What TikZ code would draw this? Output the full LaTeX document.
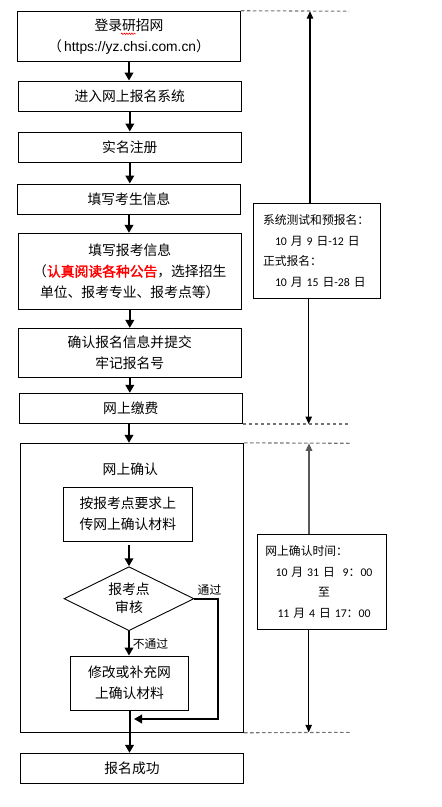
\documentclass[tikz,border=0pt]{standalone}
\usepackage{fontspec}
\setmainfont{Noto Sans CJK SC}[AutoFakeBold=2]
\newfontfamily\lat{Liberation Sans}
\newfontfamily\narrowlat{Carlito}
\newcommand{\nm}[1]{{\narrowlat #1}}
\usetikzlibrary{arrows.meta,shapes.geometric,decorations.pathmorphing}
\begin{document}
\begin{tikzpicture}[x=1pt,y=-1pt,
  box/.style={draw,line width=0.9pt,inner sep=0pt,align=center,font=\fontsize{13.8pt}{21pt}\selectfont},
  sidebox/.style={draw,line width=0.9pt,inner ysep=0pt,align=left,font=\fontsize{11.8pt}{20.5pt}\selectfont},
  thickarrow/.style={line width=2pt,-{Triangle[length=8pt,width=8.5pt]}},
  sidearrow/.style={line width=1.1pt,-{Triangle[length=7.5pt,width=6.5pt]}},
  sepline/.style={draw=black!55,line width=1.1pt,dash pattern=on 3.5pt off 2.5pt},
  lbl/.style={font=\fontsize{11.8pt}{14pt}\selectfont,inner sep=0pt}]
\useasboundingbox (0,0) rectangle (442,807);

% main column
\node[box,minimum width=223pt,minimum height=50pt] (b1) at (129,36.2)
  {登录研招网\\（\,{\lat https://yz.chsi.com.cn}）};
\node[box,minimum width=223pt,minimum height=30pt] (b2) at (129.8,96) {进入网上报名系统};
\node[box,minimum width=223pt,minimum height=30pt] (b3) at (129.8,147) {实名注册};
\node[box,minimum width=223pt,minimum height=30pt] (b4) at (129,199) {填写考生信息};
\node[box,minimum width=223pt,minimum height=76pt] (b5) at (129.8,271.3)
  {填写报考信息\\（{\color{red}\bfseries 认真阅读各种公告}，选择招生\\单位、报考专业、报考点等）};
\node[box,minimum width=223pt,minimum height=48.7pt] (b6) at (129.8,352.7)
  {确认报名信息并提交\\牢记报名号};
\node[box,minimum width=223pt,minimum height=30pt] (b7) at (130.8,408.3) {网上缴费};

% outer confirmation box
\node[box,minimum width=223.3pt,minimum height=289pt] (ob) at (132,587.8) {};
\node[box,draw=none] (obt) at (130.3,469) {网上确认};
\node[box,minimum width=129pt,minimum height=53.7pt] (i1) at (127.8,514.2)
  {按报考点要求上\\传网上确认材料};
\node[box,diamond,aspect=2,minimum width=130pt,minimum height=64pt,
  font=\fontsize{13.8pt}{18pt}\selectfont] (dm) at (129,598.7) {报考点\\审核};
\node[box,minimum width=117.3pt,minimum height=54.3pt] (i2) at (129.5,683.2)
  {修改或补充网\\上确认材料};
\node[box,minimum width=223.3pt,minimum height=30pt] (fin) at (132,768.3) {报名成功};

\node[lbl] (lpass) at (209.5,590) {通过};
\node[lbl] (lfail) at (150.5,644) {不通过};

% spell-check wave
\draw[red,line width=0.6pt,decorate,decoration={snake,amplitude=0.7pt,segment length=2.5pt}]
  (121,33.8) -- (136,33.8);

% main arrows
\draw[thickarrow] (b1.south) -- (b1.south |- b2.north);
\draw[thickarrow] (b2.south) -- (b2.south |- b3.north);
\draw[thickarrow] (b3.south) -- (b3.south |- b4.north);
\draw[thickarrow] (b4.south) -- (b4.south |- b5.north);
\draw[thickarrow] (b5.south) -- (b5.south |- b6.north);
\draw[thickarrow] (b6.south) -- (b6.south |- b7.north);
\coordinate (c7) at (129,423.3);
\draw[thickarrow] (c7) -- (c7 |- ob.north);
\coordinate (c1) at (129,545);
\draw[thickarrow] (c1) -- (dm.north);
\draw[thickarrow] (dm.south) -- (dm.south |- i2.north);
\coordinate (pa) at (218,719);
\coordinate (pb) at (134,719);
\draw[thickarrow] (dm.east) -| (pa) -- (pb);
\draw[thickarrow] (i2.south) -- (i2.south |- fin.north);

% right side
\node[sidebox,text width=107.6pt,inner xsep=9.7pt,minimum height=95pt] (r1) at (316.8,250.8)
  {系统测试和预报名：\\\hspace*{12pt}\nm{10 }月\nm{ 9 }日\nm{-12 }日\\正式报名：\\\hspace*{12pt}\nm{10 }月\nm{ 15 }日\nm{-28 }日};
\node[sidebox,text width=113.3pt,inner xsep=8pt,minimum height=95pt] (r2) at (322,581.8)
  {网上确认时间：\\\makebox[\linewidth][c]{\hspace*{4pt}\nm{10 }月\nm{ 31 }日\nm{\ \ 9}：\nm{00}}\\
   \makebox[\linewidth][c]{\hspace*{4pt}至}\\\makebox[\linewidth][c]{\hspace*{4pt}\nm{11 }月\nm{ 4 }日\nm{ 17}：\nm{00}}};

\coordinate (d1) at (349,11.2);
\coordinate (d2) at (350,424);
\coordinate (d3) at (350,443.3);
\coordinate (d4) at (352,732.3);
\draw[sepline] (b1.north east) -- (d1);
\draw[sepline] (b7.south east |- d2) -- (d2);
\draw[sepline] (ob.north east) -- (d3);
\draw[sepline] (ob.south east) -- (d4);

\coordinate (t1) at (310,11.2);
\coordinate (t2) at (308.7,424);
\coordinate (t3) at (309,443.3);
\coordinate (t4) at (308.7,732.3);
\draw[sidearrow] (t1 |- r1.north) -- (t1);
\draw[sidearrow] (t2 |- r1.south) -- (t2);
\draw[sidearrow,draw=black!65,fill=black!65] (t3 |- r2.north) -- (t3);
\draw[sidearrow] (t4 |- r2.south) -- (t4);
\end{tikzpicture}
\end{document}
